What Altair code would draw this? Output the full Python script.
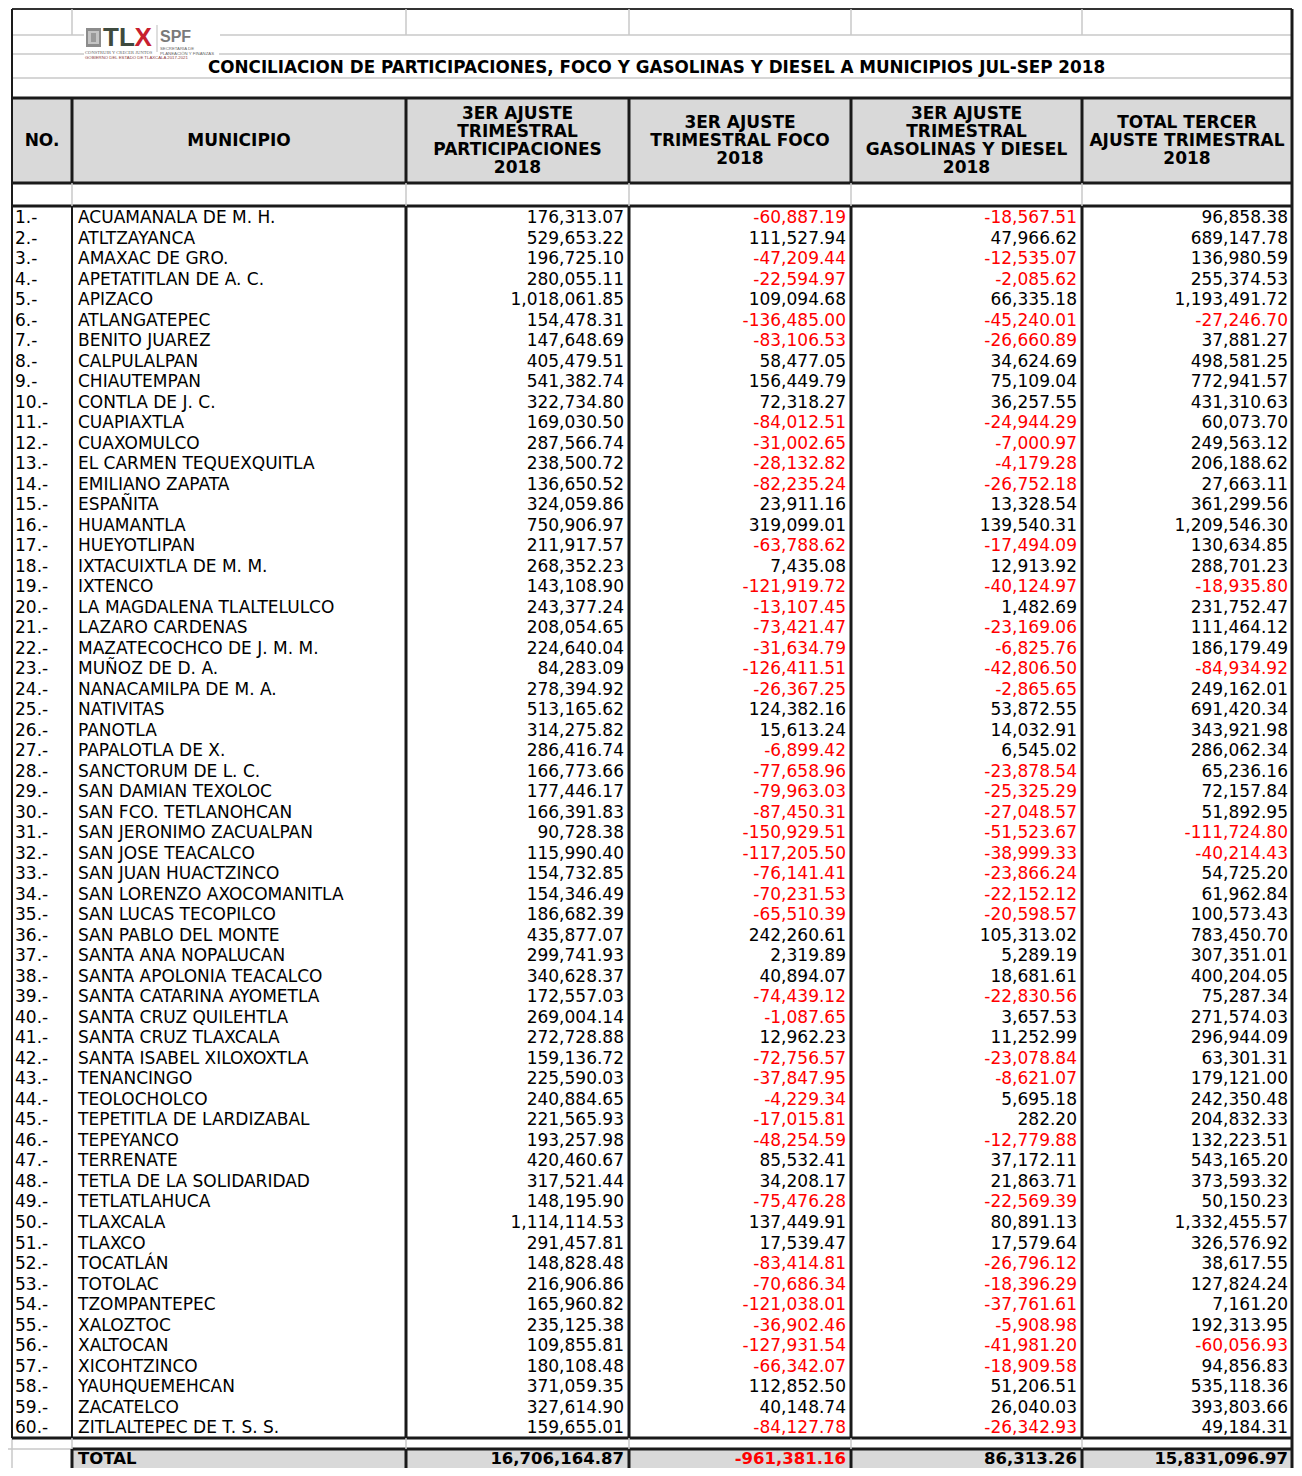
import altair as alt
import pandas as pd

# ---------------- data ----------------
TITLE = "CONCILIACION DE PARTICIPACIONES, FOCO Y GASOLINAS Y DIESEL A MUNICIPIOS JUL-SEP 2018"
HEADERS = [
    ["NO."],
    ["MUNICIPIO"],
    ["3ER AJUSTE", "TRIMESTRAL", "PARTICIPACIONES", "2018"],
    ["3ER AJUSTE", "TRIMESTRAL FOCO", "2018"],
    ["3ER AJUSTE", "TRIMESTRAL", "GASOLINAS Y DIESEL", "2018"],
    ["TOTAL TERCER", "AJUSTE TRIMESTRAL", "2018"],
]
MUNICIPIOS = [
    "ACUAMANALA DE M. H.", "ATLTZAYANCA", "AMAXAC DE GRO.", "APETATITLAN DE A. C.", "APIZACO",
    "ATLANGATEPEC", "BENITO JUAREZ", "CALPULALPAN", "CHIAUTEMPAN", "CONTLA DE J. C.",
    "CUAPIAXTLA", "CUAXOMULCO", "EL CARMEN TEQUEXQUITLA", "EMILIANO ZAPATA", "ESPAÑITA",
    "HUAMANTLA", "HUEYOTLIPAN", "IXTACUIXTLA DE M. M.", "IXTENCO", "LA MAGDALENA TLALTELULCO",
    "LAZARO CARDENAS", "MAZATECOCHCO DE J. M. M.", "MUÑOZ DE D. A.", "NANACAMILPA DE M. A.", "NATIVITAS",
    "PANOTLA", "PAPALOTLA DE X.", "SANCTORUM DE L. C.", "SAN DAMIAN TEXOLOC", "SAN FCO. TETLANOHCAN",
    "SAN JERONIMO ZACUALPAN", "SAN JOSE TEACALCO", "SAN JUAN HUACTZINCO", "SAN LORENZO AXOCOMANITLA", "SAN LUCAS TECOPILCO",
    "SAN PABLO DEL MONTE", "SANTA ANA NOPALUCAN", "SANTA APOLONIA TEACALCO", "SANTA CATARINA AYOMETLA", "SANTA CRUZ QUILEHTLA",
    "SANTA CRUZ TLAXCALA", "SANTA ISABEL XILOXOXTLA", "TENANCINGO", "TEOLOCHOLCO", "TEPETITLA DE LARDIZABAL",
    "TEPEYANCO", "TERRENATE", "TETLA DE LA SOLIDARIDAD", "TETLATLAHUCA", "TLAXCALA",
    "TLAXCO", "TOCATLÁN", "TOTOLAC", "TZOMPANTEPEC", "XALOZTOC",
    "XALTOCAN", "XICOHTZINCO", "YAUHQUEMEHCAN", "ZACATELCO", "ZITLALTEPEC DE T. S. S.",
]
PARTICIPACIONES = [
    176313.07, 529653.22, 196725.10, 280055.11, 1018061.85,
    154478.31, 147648.69, 405479.51, 541382.74, 322734.80,
    169030.50, 287566.74, 238500.72, 136650.52, 324059.86,
    750906.97, 211917.57, 268352.23, 143108.90, 243377.24,
    208054.65, 224640.04, 84283.09, 278394.92, 513165.62,
    314275.82, 286416.74, 166773.66, 177446.17, 166391.83,
    90728.38, 115990.40, 154732.85, 154346.49, 186682.39,
    435877.07, 299741.93, 340628.37, 172557.03, 269004.14,
    272728.88, 159136.72, 225590.03, 240884.65, 221565.93,
    193257.98, 420460.67, 317521.44, 148195.90, 1114114.53,
    291457.81, 148828.48, 216906.86, 165960.82, 235125.38,
    109855.81, 180108.48, 371059.35, 327614.90, 159655.01,
]
FOCO = [
    -60887.19, 111527.94, -47209.44, -22594.97, 109094.68,
    -136485.00, -83106.53, 58477.05, 156449.79, 72318.27,
    -84012.51, -31002.65, -28132.82, -82235.24, 23911.16,
    319099.01, -63788.62, 7435.08, -121919.72, -13107.45,
    -73421.47, -31634.79, -126411.51, -26367.25, 124382.16,
    15613.24, -6899.42, -77658.96, -79963.03, -87450.31,
    -150929.51, -117205.50, -76141.41, -70231.53, -65510.39,
    242260.61, 2319.89, 40894.07, -74439.12, -1087.65,
    12962.23, -72756.57, -37847.95, -4229.34, -17015.81,
    -48254.59, 85532.41, 34208.17, -75476.28, 137449.91,
    17539.47, -83414.81, -70686.34, -121038.01, -36902.46,
    -127931.54, -66342.07, 112852.50, 40148.74, -84127.78,
]
GASOLINAS = [
    -18567.51, 47966.62, -12535.07, -2085.62, 66335.18,
    -45240.01, -26660.89, 34624.69, 75109.04, 36257.55,
    -24944.29, -7000.97, -4179.28, -26752.18, 13328.54,
    139540.31, -17494.09, 12913.92, -40124.97, 1482.69,
    -23169.06, -6825.76, -42806.50, -2865.65, 53872.55,
    14032.91, 6545.02, -23878.54, -25325.29, -27048.57,
    -51523.67, -38999.33, -23866.24, -22152.12, -20598.57,
    105313.02, 5289.19, 18681.61, -22830.56, 3657.53,
    11252.99, -23078.84, -8621.07, 5695.18, 282.20,
    -12779.88, 37172.11, 21863.71, -22569.39, 80891.13,
    17579.64, -26796.12, -18396.29, -37761.61, -5908.98,
    -41981.20, -18909.58, 51206.51, 26040.03, -26342.93,
]
TOTALES = [
    96858.38, 689147.78, 136980.59, 255374.53, 1193491.72,
    -27246.70, 37881.27, 498581.25, 772941.57, 431310.63,
    60073.70, 249563.12, 206188.62, 27663.11, 361299.56,
    1209546.30, 130634.85, 288701.23, -18935.80, 231752.47,
    111464.12, 186179.49, -84934.92, 249162.01, 691420.34,
    343921.98, 286062.34, 65236.16, 72157.84, 51892.95,
    -111724.80, -40214.43, 54725.20, 61962.84, 100573.43,
    783450.70, 307351.01, 400204.05, 75287.34, 271574.03,
    296944.09, 63301.31, 179121.00, 242350.48, 204832.33,
    132223.51, 543165.20, 373593.32, 50150.23, 1332455.57,
    326576.92, 38617.55, 127824.24, 7161.20, 192313.95,
    -60056.93, 94856.83, 535118.36, 393803.66, 49184.31,
]
TOTAL_LABEL = "TOTAL"
TOTAL_VALUES = [16706164.87, -961381.16, 86313.26, 15831096.97]

# ---------------- layout (page pixel coordinates) ----------------
X0, X1, Y0, Y1 = 8, 1294, 8, 1468          # visible page area covered by the chart
COLS = [12, 72, 406, 629, 851, 1082, 1292]
NUM_RIGHT = [624, 846, 1077, 1288]
ROW0, ROWH = 218.0, 20.51
HEAD_TOP, HEAD_BOT, BODY_TOP, BODY_BOT, TOT_TOP = 98, 183, 206, 1438, 1449
DARK, LIGHT, GRAY, RED = "#1a1a1a", "#c9c9c9", "#d9d9d9", "#ff0000"
FONT = "DejaVu Sans"

X = lambda f="x": alt.X(f"{f}:Q", scale=alt.Scale(domain=[X0, X1], nice=False, zero=False), axis=None)
Y = lambda f="y": alt.Y(f"{f}:Q", scale=alt.Scale(domain=[Y0, Y1], nice=False, zero=False, reverse=True), axis=None)

# ---------------- fills ----------------
fills = pd.DataFrame([
    dict(x=COLS[0], x2=COLS[-1], y=HEAD_TOP, y2=HEAD_BOT, c=GRAY),
    dict(x=COLS[1], x2=COLS[-1], y=TOT_TOP, y2=Y1, c=GRAY),
    dict(x=86, x2=101, y=28, y2=47, c="#8c8c8c"),
    dict(x=88, x2=99, y=31, y2=44, c="#c4c4c4"),
    dict(x=91, x2=96, y=33, y2=42, c="#9a9a9a"),
])
fill_layer = alt.Chart(fills).mark_rect().encode(
    x=X(), x2="x2:Q", y=Y(), y2="y2:Q", color=alt.Color("c:N", scale=None))

# ---------------- lines ----------------
L = []
def line(x, x2, y, y2, c, w):
    L.append(dict(x=x, x2=x2, y=y, y2=y2, c=c, w=w))

line(COLS[0], COLS[-1], 9, 9, "#333333", 2)
for cx in COLS[1:-1]:
    line(cx, cx, 9, 35, LIGHT, 1.5)
line(COLS[0], 84, 35, 35, LIGHT, 1.5); line(220, COLS[-1], 35, 35, LIGHT, 1.5)
line(COLS[0], 84, 54, 54, LIGHT, 1.5); line(219, COLS[-1], 54, 54, LIGHT, 1.5)
line(COLS[0], COLS[-1], 78, 78, LIGHT, 1.5)
line(COLS[0], COLS[0], 9, BODY_BOT, DARK, 2)
line(COLS[0], COLS[0], BODY_BOT, Y1, LIGHT, 1.5)
line(COLS[-1], COLS[-1], 9, Y1, DARK, 3)
for yy in [HEAD_TOP, HEAD_BOT, BODY_TOP, BODY_BOT]:
    line(COLS[0], COLS[-1], yy, yy, DARK, 3)
line(COLS[1], COLS[-1], TOT_TOP, TOT_TOP, DARK, 3)
line(X0, COLS[1], TOT_TOP, TOT_TOP, LIGHT, 1.5)
for cx in COLS[1:-1]:
    line(cx, cx, HEAD_TOP, HEAD_BOT, DARK, 3)
    line(cx, cx, HEAD_BOT, BODY_TOP, LIGHT, 1.5)
    line(cx, cx, BODY_TOP, BODY_BOT, DARK, 2 if cx == COLS[1] else 3)
    line(cx, cx, BODY_BOT, TOT_TOP, LIGHT, 1.5)
    line(cx, cx, TOT_TOP, Y1, DARK, 3)
line(157, 157, 25, 52, "#bdbdbd", 1)
lines = pd.DataFrame(L)
line_layer = alt.Chart(lines).mark_rule().encode(
    x=X(), x2="x2:Q", y=Y(), y2="y2:Q",
    color=alt.Color("c:N", scale=None), strokeWidth=alt.StrokeWidth("w:Q", scale=None))

# ---------------- body text ----------------
fmt = lambda v: f"{v:,.2f}"
left_rows, num_rows = [], []
for i, name in enumerate(MUNICIPIOS):
    yc = ROW0 + i * ROWH
    left_rows.append(dict(x=15, y=yc, t=f"{i + 1}.-"))
    left_rows.append(dict(x=78, y=yc, t=name))
    for xr, arr in zip(NUM_RIGHT, [PARTICIPACIONES, FOCO, GASOLINAS, TOTALES]):
        v = arr[i]
        num_rows.append(dict(x=xr, y=yc, t=fmt(v), c=RED if v < 0 else "#000000"))

left_layer = alt.Chart(pd.DataFrame(left_rows)).mark_text(
    align="left", baseline="middle", font=FONT, fontSize=17, color="#000000"
).encode(x=X(), y=Y(), text="t:N")
num_layer = alt.Chart(pd.DataFrame(num_rows)).mark_text(
    align="right", baseline="middle", font=FONT, fontSize=17
).encode(x=X(), y=Y(), text="t:N", color=alt.Color("c:N", scale=None))

# ---------------- total row ----------------
TOT_Y = (TOT_TOP + Y1) / 2 + 0.5
tot_rows = [dict(x=78, y=TOT_Y, t=TOTAL_LABEL, c="#000000", a="l")]
for xr, v in zip(NUM_RIGHT, TOTAL_VALUES):
    tot_rows.append(dict(x=xr, y=TOT_Y, t=fmt(v), c=RED if v < 0 else "#000000", a="r"))
tot_df = pd.DataFrame(tot_rows)
tot_left = alt.Chart(tot_df[tot_df.a == "l"]).mark_text(
    align="left", baseline="middle", font=FONT, fontSize=16.5, fontWeight="bold"
).encode(x=X(), y=Y(), text="t:N", color=alt.Color("c:N", scale=None))
tot_right = alt.Chart(tot_df[tot_df.a == "r"]).mark_text(
    align="right", baseline="middle", font=FONT, fontSize=16.5, fontWeight="bold"
).encode(x=X(), y=Y(), text="t:N", color=alt.Color("c:N", scale=None))

# ---------------- header text ----------------
HEAD_SPACING = 18.3
HEAD_MID = (HEAD_TOP + HEAD_BOT) / 2 + 0.5
head_rows = []
for k, lines_k in enumerate(HEADERS):
    xc = (COLS[k] + COLS[k + 1]) / 2
    n = len(lines_k)
    for j, s in enumerate(lines_k):
        head_rows.append(dict(x=xc, y=HEAD_MID + (j - (n - 1) / 2) * HEAD_SPACING, t=s))
head_layer = alt.Chart(pd.DataFrame(head_rows)).mark_text(
    align="center", baseline="middle", font=FONT, fontSize=17, fontWeight="bold", color="#000000"
).encode(x=X(), y=Y(), text="t:N")

title_layer = alt.Chart(pd.DataFrame([dict(x=656.5, y=67.5, t=TITLE)])).mark_text(
    align="center", baseline="middle", font=FONT, fontSize=16.8, fontWeight="bold", color="#000000"
).encode(x=X(), y=Y(), text="t:N")

# ---------------- logo ----------------
logo_big = pd.DataFrame([
    dict(x=103, y=38, t="TL", c="#3e4a3e", s=26),
    dict(x=134.5, y=38, t="X", c="#c8202f", s=26),
    dict(x=160, y=37, t="SPF", c="#7a7a7a", s=16),
])
logo_serif = pd.DataFrame([
    dict(x=85, y=53, t="CONSTRUIR Y CRECER JUNTOS", c="#666666"),
])
logo_small = pd.DataFrame([
    dict(x=85, y=57.5, t="GOBIERNO DEL ESTADO DE TLAXCALA 2017-2021", c="#8a3a3a"),
    dict(x=160, y=49, t="SECRETARÍA DE", c="#666666"),
    dict(x=160, y=53.5, t="PLANEACIÓN Y FINANZAS", c="#666666"),
])
logo_big_layer = alt.Chart(logo_big).mark_text(
    align="left", baseline="middle", font="Liberation Sans", fontWeight="bold"
).encode(x=X(), y=Y(), text="t:N", color=alt.Color("c:N", scale=None),
         size=alt.Size("s:Q", scale=None))
logo_serif_layer = alt.Chart(logo_serif).mark_text(
    align="left", baseline="middle", font="Liberation Serif", fontSize=4.6
).encode(x=X(), y=Y(), text="t:N", color=alt.Color("c:N", scale=None))
logo_small_layer = alt.Chart(logo_small).mark_text(
    align="left", baseline="middle", font="Liberation Sans", fontSize=4.3
).encode(x=X(), y=Y(), text="t:N", color=alt.Color("c:N", scale=None))

chart = alt.layer(
    fill_layer, line_layer, left_layer, num_layer, tot_left, tot_right,
    head_layer, title_layer, logo_big_layer, logo_serif_layer, logo_small_layer
).properties(
    width=X1 - X0, height=Y1 - Y0, padding=0, autosize=alt.AutoSizeParams(type="none"),
    background="#ffffff"
).configure_view(strokeWidth=0)

chart.save("out.html", embed_options={"renderer": "svg", "actions": False})
